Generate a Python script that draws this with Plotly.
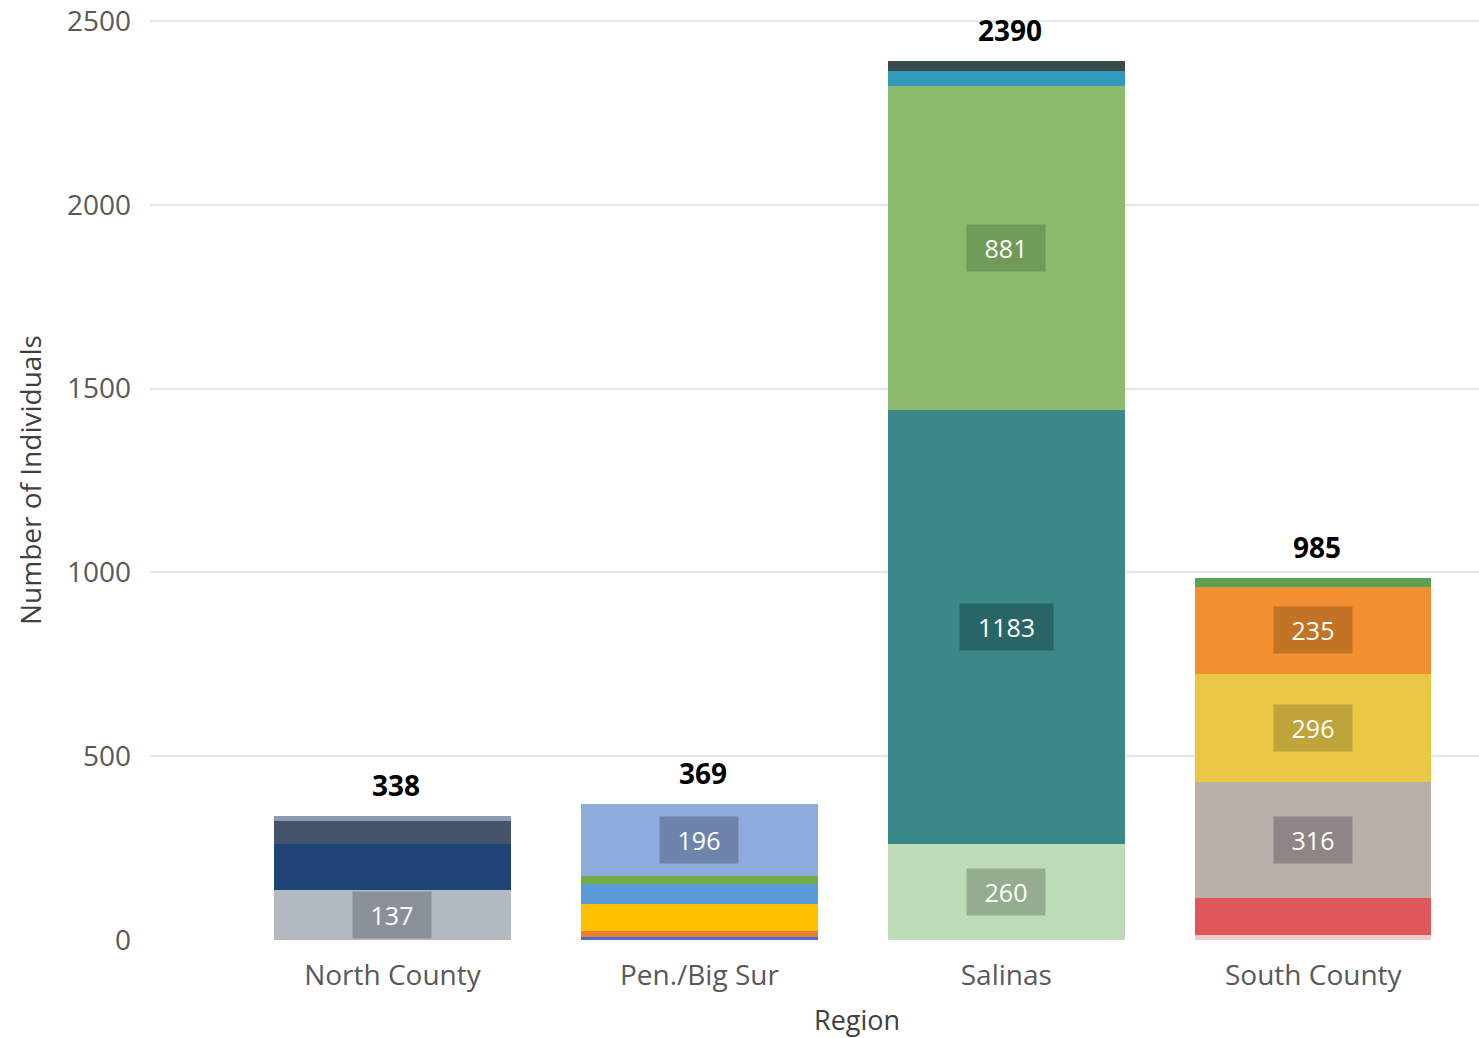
import plotly.graph_objects as go

# ---- data ----
regions = ["North County", "Pen./Big Sur", "Salinas", "South County"]
north_values = [137, 125, 63, 13]
pen_values = [8, 16, 74, 55, 20, 196]
salinas_values = [260, 1183, 881, 39, 27]
south_values = [13, 100, 316, 296, 235, 25]
totals = [338, 369, 2390, 985]
y_ticks = [0, 500, 1000, 1500, 2000, 2500]

# ---- styles ----
north_colors = ["#b3b9c1", "#1f4578", "#43536a", "#8c9ab0"]
pen_colors = ["#4472c4", "#ed7d31", "#ffc000", "#5b9bd5", "#70ad47", "#8faadc"]
salinas_colors = ["#bfdcb8", "#3a8988", "#8dbb6d", "#3399ba", "#364b4b"]
south_colors = ["#efcaca", "#e0575a", "#b8aeaa", "#ebc746", "#f28f30", "#5ba250"]

north_boxes = ["#8a9097", None, None, None]
pen_boxes = [None, None, None, None, None, "#6e84ad"]
salinas_boxes = ["#93ad8e", "#2a6565", "#6f9a58", None, None]
south_boxes = [None, None, "#8e8684", "#bea43a", "#c37324", None]

FONT = "Open Sans, sans-serif"

groups = [
    (regions[0], north_values, north_colors, north_boxes),
    (regions[1], pen_values, pen_colors, pen_boxes),
    (regions[2], salinas_values, salinas_colors, salinas_boxes),
    (regions[3], south_values, south_colors, south_boxes),
]

fig = go.Figure()
annotations = []
for region, vals, cols, boxes in groups:
    base = 0
    for v, c, b in zip(vals, cols, boxes):
        fig.add_trace(go.Bar(
            x=[region], y=[v], marker=dict(color=c, line=dict(width=0)),
            width=0.77, showlegend=False, hoverinfo="x+y"))
        if b is not None:
            txt = str(v)
            annotations.append(dict(
                x=region, y=base + v / 2, xref="x", yref="y", text=txt,
                showarrow=False, bgcolor=b, borderpad=8,
                width=15 * len(txt) + 17, height=30,
                font=dict(family=FONT, size=25, color="white")))
        base += v

for region, t in zip(regions, totals):
    annotations.append(dict(
        x=region, y=t, xref="x", yref="y", text="<b>%d</b>" % t,
        showarrow=False, yanchor="middle", yshift=31, xshift=4,
        font=dict(family=FONT, size=28, color="black")))

# plot area in page pixels: x 150..1479, y 17..940 (0..2511)
PX0, PX1, PY0, PY1 = 150, 1479, 17, 940
annotations.append(dict(
    x=(857 - PX0) / (PX1 - PX0), y=-(1020 - PY1) / (PY1 - PY0),
    xref="paper", yref="paper", text="Region", showarrow=False,
    xanchor="center", yanchor="middle",
    font=dict(family=FONT, size=27, color="#404040")))
annotations.append(dict(
    x=-(PX0 - 30) / (PX1 - PX0), y=(PY1 - 480) / (PY1 - PY0),
    xref="paper", yref="paper", text="Number of Individuals", showarrow=False,
    xanchor="center", yanchor="middle", textangle=-90,
    font=dict(family=FONT, size=28, color="#404040")))

fig.update_layout(
    barmode="stack",
    width=1479, height=1038,
    margin=dict(l=PX0, r=0, t=PY0, b=1038 - PY1, autoexpand=False),
    plot_bgcolor="white", paper_bgcolor="white",
    annotations=annotations,
    xaxis=dict(
        range=[-0.79, 3.54], showgrid=False, zeroline=False, showline=False,
        tickfont=dict(family=FONT, size=28, color="#595959"),
        ticklabelstandoff=16,
    ),
    yaxis=dict(
        range=[0, 2511], tickmode="array", tickvals=y_ticks,
        ticktext=[str(v) for v in y_ticks],
        showgrid=True, gridcolor="#e6e6e6",
        gridwidth=1.5, zeroline=False, showline=False,
        tickfont=dict(family=FONT, size=28, color="#595959"),
        ticklabelstandoff=18,
    ),
)

fig.write_html(
    "out.html",
    config={"displayModeBar": False},
    post_script="document.body.style.margin='0';document.body.style.overflow='hidden';",
)
